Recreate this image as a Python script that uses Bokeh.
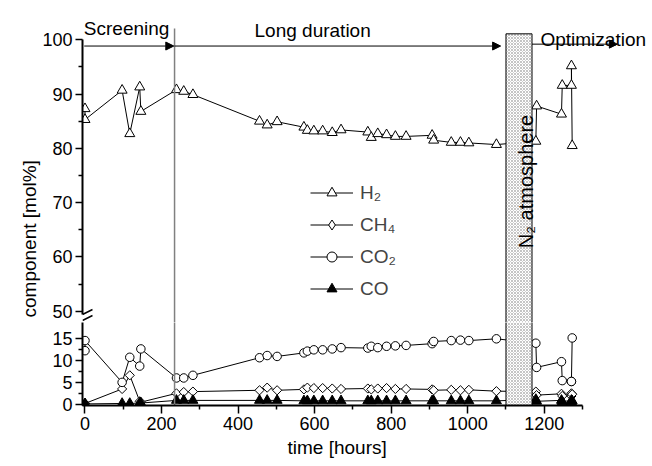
import math
from bokeh.plotting import figure
from bokeh.layouts import column
from bokeh.models import Range1d, FixedTicker, Label, Arrow, NormalHead, Legend, LegendItem
from bokeh.embed import file_html
from bokeh.resources import INLINE

# ---------------- data ----------------
hours = [0, 0, 97, 117, 143, 146, 239, 258, 282, 456, 476, 502, 572, 581, 598, 621, 646, 669,
         739, 748, 765, 788, 811, 839, 907, 911, 957, 981, 1003, 1075,
         1178, 1180, 1245, 1247, 1271, 1271, 1273]
h2 = [87.3, 85.3, 90.7, 82.7, 91.3, 86.8, 90.8, 90.5, 89.9, 85.0, 84.3, 84.9, 83.9, 83.3, 83.2, 83.2, 82.9, 83.4,
      83.0, 82.0, 82.7, 82.5, 82.2, 82.2, 82.4, 81.5, 81.1, 81.1, 81.0, 80.7,
      81.3, 87.8, 86.3, 91.6, 91.6, 95.2, 80.5]
ch4 = [0.3, 0.3, 3.6, 6.7, 0.8, 0.6, 2.6, 2.9, 3.0, 3.3, 3.9, 3.3, 3.5, 3.9, 3.8, 3.8, 3.7, 3.6,
       3.7, 3.5, 3.7, 3.8, 3.6, 3.6, 3.5, 3.3, 3.4, 3.3, 3.4, 3.1,
       3.0, 2.2, 2.5, 2.0, 2.6, 2.0, 2.4]
co2 = [12.3, 14.6, 5.1, 10.8, 8.8, 12.7, 6.1, 6.1, 6.7, 10.7, 11.2, 11.0, 11.8, 12.2, 12.5, 12.5, 12.7, 13.0,
       12.9, 13.3, 13.0, 13.3, 13.4, 13.5, 13.9, 14.4, 14.6, 14.7, 14.6, 15.0,
       14.0, 8.5, 9.8, 5.5, 5.3, 5.3, 15.2]
co = [0.2, 0.2, 0.3, 0.3, 0.4, 0.4, 1.0, 1.0, 1.0, 1.0, 1.0, 1.0, 0.9, 0.9, 0.9, 0.9, 0.9, 0.9,
      0.9, 0.9, 0.9, 0.9, 0.9, 0.9, 0.9, 0.9, 0.9, 0.9, 0.9, 0.9,
      1.2, 0.8, 1.0, 0.7, 1.0, 0.7, 0.9]

x_major = [0, 200, 400, 600, 800, 1000, 1200]
x_minor = [100, 300, 500, 700, 900, 1100, 1300]
top_major = [50, 60, 70, 80, 90, 100]
top_minor = [55, 65, 75, 85, 95]
bot_major = [0, 5, 10, 15]
bot_minor = [2.5, 7.5, 12.5]

screening_end = 234
n2_start, n2_end = 1100, 1168

FONT = "Liberation Sans"
TICK_FS = "18px"
TXT_FS = "19px"
W = 648

x_range = Range1d(-6.53, 1472.4)


def style_axis(ax, major, minor, bounds):
    ax.ticker = FixedTicker(ticks=major, minor_ticks=minor)
    ax.bounds = bounds
    ax.axis_line_width = 2
    ax.axis_line_color = "black"
    ax.major_tick_line_width = 1.5
    ax.minor_tick_line_width = 1.5
    ax.major_tick_in = 0
    ax.minor_tick_in = 0
    ax.major_label_text_font = FONT
    ax.major_label_text_font_size = TICK_FS
    ax.major_label_text_color = "black"


def style_title(t):
    t.text_font = FONT
    t.text_font_size = TXT_FS
    t.text_font_style = "normal"
    t.text_color = "black"


def base_fig(height, y_range, **kw):
    p = figure(width=W, height=height, x_range=x_range, y_range=y_range,
               output_backend="svg", toolbar_location=None,
               min_border_left=82, min_border_right=0, **kw)
    p.grid.visible = False
    p.outline_line_color = None
    p.background_fill_color = "white"
    return p


def draw_series(p, legend_diamond=False):
    specs = [
        ("H₂", h2, "triangle", "white", 10, 0),
        ("CH₄", ch4, "square", "white", 6.5, math.pi / 4),
        ("CO₂", co2, "circle", "white", 8.5, 0),
        ("CO", co, "triangle", "black", 10, 0),
    ]
    items = []
    for label, vals, marker, fill, size, ang in specs:
        if legend_diamond and marker == "square":
            marker, ang, size = "diamond", 0, 10
        ln = p.line(hours, vals, line_color="black", line_width=1)
        sc = p.scatter(hours, vals, marker=marker, size=size, angle=ang,
                       fill_color=fill, line_color="black", line_width=1)
        items.append(LegendItem(label=label, renderers=[ln, sc]))
    return items


def rect_and_line(p, y_lo, y_hi, line_lo, line_hi):
    p.segment(x0=[screening_end], y0=[line_lo], x1=[screening_end], y1=[line_hi],
              line_color="#808080", line_width=1.5)
    p.quad(left=[n2_start], right=[n2_end], bottom=[y_lo], top=[y_hi],
           fill_color="white", hatch_pattern="diagonal_cross", hatch_color="#8a8a8a",
           hatch_scale=3, hatch_weight=0.5, line_color="black", line_width=1)


# ---------------- top panel (50-100) ----------------
top = base_fig(322, Range1d(47.92, 107.24), x_axis_location=None,
               min_border_top=0, min_border_bottom=0,
               title="component [mol%]", title_location="left")
style_title(top.title)
top.title.align = "left"
top.title.offset = 5
top.title.standoff = 0
style_axis(top.yaxis[0], top_major, top_minor, (49.4, 100))
top.yaxis[0].major_tick_out = 7
top.yaxis[0].minor_tick_out = 4
top.yaxis[0].major_label_standoff = 3

# CH4 is drawn as a diamond here: its values lie below this panel, only the legend shows it
items = draw_series(top, legend_diamond=True)
rect_and_line(top, 40, 101.1, 40, 102.1)

legend = Legend(items=items, location=(228, 21), padding=0, margin=0,
                glyph_width=43, glyph_height=25, label_height=25, spacing=7,
                label_standoff=7, label_text_font=FONT, label_text_font_size=TXT_FS,
                border_line_color=None, background_fill_alpha=0)
top.add_layout(legend)

arrow_y = 98.85
for xs, xe, y in [(-2, screening_end - 2, arrow_y), (screening_end, 1086, arrow_y),
                  (n2_end, 1391, 99.2)]:
    top.add_layout(Arrow(end=NormalHead(size=8, fill_color="black", line_color="black"),
                         x_start=xs, y_start=y, x_end=xe, y_end=y, line_width=1))

for txt, x, y in [("Screening", -3, 102.08), ("Long duration", 443, 101.7),
                  ("Optimization", 1190, 100.05)]:
    top.add_layout(Label(x=x, y=y, text=txt, text_font=FONT, text_font_size=TXT_FS,
                         text_align="left", text_baseline="alphabetic", text_color="black"))

top.add_layout(Label(x=1153.6, y=73.9, text="N₂ atmosphere", angle=math.pi / 2,
                     text_font=FONT, text_font_size="20px", text_align="center",
                     text_baseline="middle", text_color="black"))

# axis break marks (two short slashes across the spine)
for y0, y1 in [(48.29, 49.21), (49.39, 50.31)]:
    top.add_layout(Arrow(start=None, end=None, x_start=-6.5, y_start=y0, x_end=19.6, y_end=y1,
                         line_width=1.5, line_color="black"))

# ---------------- bottom panel (0-20) ----------------
bot = base_fig(142, Range1d(-0.16, 18.71), min_border_top=0, min_border_bottom=59,
               title="time [hours]", title_location="below")
style_title(bot.title)
bot.title.align = "left"
bot.title.offset = 205
bot.title.standoff = 5
style_axis(bot.yaxis[0], bot_major, bot_minor, (-0.16, 18.71))
bot.yaxis[0].major_tick_out = 7
bot.yaxis[0].minor_tick_out = 4
bot.yaxis[0].major_label_standoff = 3
style_axis(bot.xaxis[0], x_major, x_minor, (-6.53, 1300))
bot.xaxis[0].major_tick_out = 8
bot.xaxis[0].minor_tick_out = 4
bot.xaxis[0].major_label_standoff = 3

draw_series(bot)
rect_and_line(bot, -0.16, 30, -1, 30)

layout = column(top, bot, spacing=0)
open("out.html", "w").write(file_html(layout, INLINE))
